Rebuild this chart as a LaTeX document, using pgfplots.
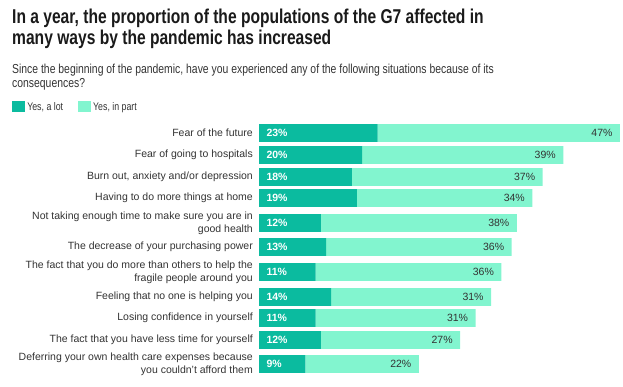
\documentclass[border=0pt]{standalone}
\usepackage{pgfplots}
\usepackage{pgfplotstable}
\pgfplotsset{compat=1.18}
\usepackage{fontspec}
\setmainfont{Liberation Sans}
\newfontfamily\narrowfont[FakeStretch=0.8]{Liberation Sans}
\newfontfamily\titlefont[FakeStretch=0.78]{Liberation Sans}
\definecolor{dark}{HTML}{0BBB9F}
\definecolor{light}{HTML}{82F5CF}
\definecolor{txt}{HTML}{333333}
\definecolor{ttl}{HTML}{1A1A1A}

\pgfplotstableread{
y lot part
133 23 47
155 20 39
177 18 37
198 19 34
223 12 38
247 13 36
272 11 36
297 14 31
318 11 31
340 12 27
364 9 22
}\datatable

\begin{document}
\begin{tikzpicture}[x=1pt,y=1pt]
\useasboundingbox (0,0) rectangle (623,-387);
\node[anchor=base west, inner sep=0pt, text=ttl, font=\titlefont\bfseries\fontsize{20}{20}\selectfont] at (12,-24) {In a year, the proportion of the populations of the G7 affected in};
\node[anchor=base west, inner sep=0pt, text=ttl, font=\titlefont\bfseries\fontsize{20}{20}\selectfont] at (12,-45) {many ways by the pandemic has increased};
\node[anchor=base west, inner sep=0pt, text=txt, font=\narrowfont\fontsize{13}{13}\selectfont] at (12,-73.5) {Since the beginning of the pandemic, have you experienced any of the following situations because of its};
\node[anchor=base west, inner sep=0pt, text=txt, font=\narrowfont\fontsize{13}{13}\selectfont] at (12,-87.5) {consequences?};
\begin{axis}[
  at={(259pt,-375pt)}, anchor=south west,
  scale only axis, width=361pt, height=255pt,
  xmin=0, xmax=70, ymin=120, ymax=375, y dir=reverse,
  xbar stacked, bar width=17.7,
  axis line style={draw=none},
  xtick=\empty,
  /pgf/number format/assume math mode=true,
  ytick={133,155,177,198,223,247,272,297,318,340,364},
  yticklabels={Fear of the future, Fear of going to hospitals, {Burn out, anxiety and/or depression}, Having to do more things at home, {Not taking enough time to make sure you are in\\good health}, The decrease of your purchasing power, {The fact that you do more than others to help the\\fragile people around you}, Feeling that no one is helping you, Losing confidence in yourself, The fact that you have less time for yourself, {Deferring your own health care expenses because\\you couldn't afford them}},
  major tick length=0pt,
  yticklabel style={align=right, font=\fontsize{10.5}{12.7}\selectfont, text=txt, inner sep=0pt, xshift=-6pt},
  legend style={draw=none, fill=none, inner sep=0pt, at={(axis description cs:-0.684,1.0784)}, anchor=north west, legend columns=2, font=\narrowfont\fontsize{11}{11}\selectfont, text=txt, /tikz/every even column/.append style={column sep=13pt}},
  clip=false,
]
\addplot[fill=dark, draw=none, point meta=explicit,
  legend image code/.code={\fill[dark] (0pt,-5.5pt) rectangle (13pt,5.5pt);},
  visualization depends on={\thisrow{lot} \as \lotval},
  nodes near coords={\pgfmathprintnumber{\pgfplotspointmeta}\%},
  nodes near coords style={anchor=west, text=white, font=\bfseries\fontsize{10.5}{10.5}\selectfont, xshift={4pt-\lotval*2.57857pt}}]
  table[x=lot, y=y, meta=lot] {\datatable};
\addlegendentry{Yes, a lot}
\addplot[fill=light, draw=none, point meta=explicit,
  legend image code/.code={\fill[light] (0pt,-5.5pt) rectangle (13pt,5.5pt);},
  visualization depends on={\thisrow{part} \as \partval},
  nodes near coords={\pgfmathprintnumber{\pgfplotspointmeta}\%},
  nodes near coords style={anchor=east, text=txt, font=\fontsize{10.5}{10.5}\selectfont, xshift={\partval*2.57857pt-4pt}}]
  table[x=part, y=y, meta=part] {\datatable};
\addlegendentry{Yes, in part}
\end{axis}
\end{tikzpicture}
\end{document}
